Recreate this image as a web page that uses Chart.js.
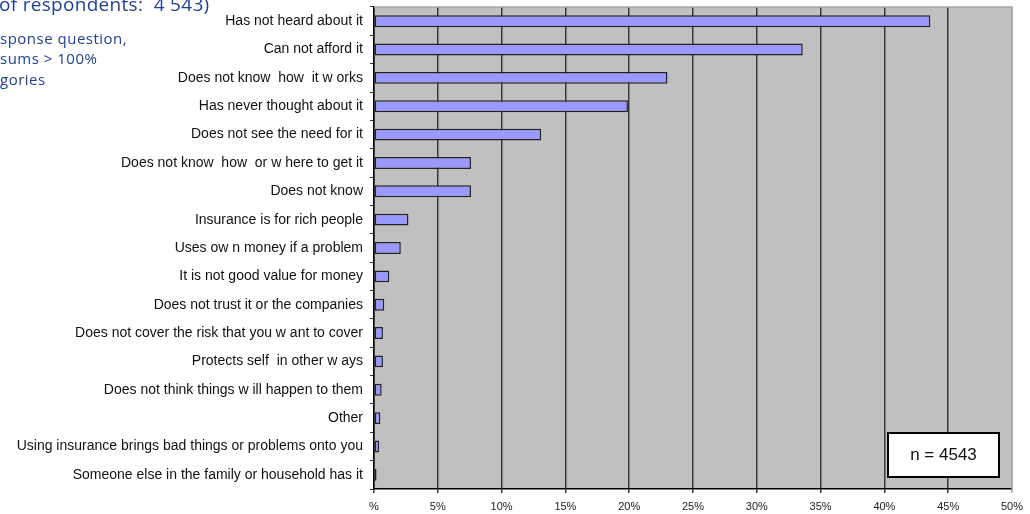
<!DOCTYPE html>
<html>
<head>
<meta charset="utf-8">
<script src="https://cdn.jsdelivr.net/npm/chart.js@4.4.1/dist/chart.umd.min.js"></script>
<style>
  html, body { margin: 0; padding: 0; background: #fff; }
  #wrap { position: relative; width: 1030px; height: 514px; }
</style>
</head>
<body>
<div id="wrap"><canvas id="reasonsChart" width="1030" height="514"></canvas></div>
<script>
// reasons for not having insurance, share of respondents (%)
const reasons = [
    'Has not heard about it',
    'Can not afford it',
    'Does not know  how  it w orks',
    'Has never thought about it',
    'Does not see the need for it',
    'Does not know  how  or w here to get it',
    'Does not know',
    'Insurance is for rich people',
    'Uses ow n money if a problem',
    'It is not good value for money',
    'Does not trust it or the companies',
    'Does not cover the risk that you w ant to cover',
    'Protects self  in other w ays',
    'Does not think things w ill happen to them',
    'Other',
    'Using insurance brings bad things or problems onto you',
    'Someone else in the family or household has it'
];
const shares = [43.6, 33.6, 23.0, 19.9, 13.1, 7.6, 7.6, 2.7, 2.1, 1.2, 0.8, 0.7, 0.7, 0.6, 0.5, 0.4, 0.2];
const xTicks = [0, 5, 10, 15, 20, 25, 30, 35, 40, 45, 50];

const headingTail = 'of respondents:  4 543)';
const sideNotes = ['sponse question,', 'sums > 100%', 'gories'];
const sampleLabel = 'n = 4543';

// grey plot background + frame, cut-off heading text, sample size box
const decorations = {
    id: 'decorations',
    beforeDraw(chart) {
        const { ctx, chartArea: a } = chart;
        ctx.save();
        ctx.fillStyle = '#c0c0c0';
        ctx.fillRect(a.left, a.top, a.right - a.left, a.bottom - a.top);
        ctx.restore();
    },
    beforeDatasetsDraw(chart) {
        const { ctx, chartArea: a } = chart;
        ctx.save();
        ctx.strokeStyle = '#a6a6a6';
        ctx.lineWidth = 1.5;
        ctx.beginPath();
        ctx.moveTo(a.left, a.top);
        ctx.lineTo(a.right, a.top);
        ctx.lineTo(a.right, a.bottom);
        ctx.stroke();
        ctx.restore();
    },
    afterDraw(chart) {
        const { ctx } = chart;
        ctx.save();
        ctx.fillStyle = '#24418c';
        ctx.textBaseline = 'alphabetic';
        ctx.textAlign = 'left';
        ctx.font = '19px "Open Sans", "Noto Sans", sans-serif';
        ctx.letterSpacing = '0.3px';
        ctx.fillText(headingTail, -1, 11);
        ctx.font = '15px "Open Sans", "Noto Sans", sans-serif';
        ctx.letterSpacing = '0.5px';
        ctx.fillText(sideNotes[0], 0, 44);
        ctx.fillText(sideNotes[1], 0, 64);
        ctx.fillText(sideNotes[2], 0, 85);
        ctx.letterSpacing = '0px';

        // n box
        ctx.fillStyle = '#ffffff';
        ctx.fillRect(888, 433, 111, 44);
        ctx.strokeStyle = '#000';
        ctx.lineWidth = 2;
        ctx.strokeRect(888, 433, 111, 44);
        ctx.fillStyle = '#111';
        ctx.font = '17px "Liberation Sans", Arial, sans-serif';
        ctx.textAlign = 'center';
        ctx.textBaseline = 'middle';
        ctx.fillText(sampleLabel, 943.5, 455);
        ctx.restore();
    }
};

new Chart(document.getElementById('reasonsChart'), {
    type: 'bar',
    data: {
        labels: reasons,
        datasets: [{
            data: shares,
            backgroundColor: '#9999ff',
            borderColor: '#222',
            borderWidth: 1.5,
            borderSkipped: false,
            barPercentage: 0.42,
            categoryPercentage: 1
        }]
    },
    options: {
        indexAxis: 'y',
        responsive: false,
        animation: false,
        layout: { padding: { top: 7, right: 11, bottom: 0, left: 0 } },
        plugins: {
            legend: { display: false },
            tooltip: { enabled: false }
        },
        scales: {
            x: {
                min: 0,
                max: 50,
                afterBuildTicks(scale) {
                    scale.ticks = xTicks.map(v => ({ value: v }));
                },
                afterFit(scale) { scale.height = 25; },
                border: { display: true, color: '#000', width: 1.5 },
                grid: {
                    color: ctx => (ctx.tick && ctx.tick.value === 50) ? '#a6a6a6' : '#383838',
                    lineWidth: 1.5,
                    tickLength: 4,
                    drawTicks: true
                },
                ticks: {
                    color: '#222',
                    padding: 7,
                    font: { family: '"Liberation Sans", Arial, sans-serif', size: 11 },
                    callback: v => v === 0 ? '%' : v + '%'
                }
            },
            y: {
                afterFit(scale) {
                    scale.width = 374;
                    scale.paddingTop = 0;
                    scale.paddingBottom = 0;
                },
                border: { display: true, color: '#000', width: 1.5 },
                grid: {
                    drawOnChartArea: false,
                    color: '#333',
                    tickLength: 4
                },
                ticks: {
                    color: '#111',
                    padding: 7,
                    autoSkip: false,
                    font: { family: '"Liberation Sans", Arial, sans-serif', size: 14 }
                }
            }
        }
    },
    plugins: [decorations]
});
</script>
</body>
</html>
